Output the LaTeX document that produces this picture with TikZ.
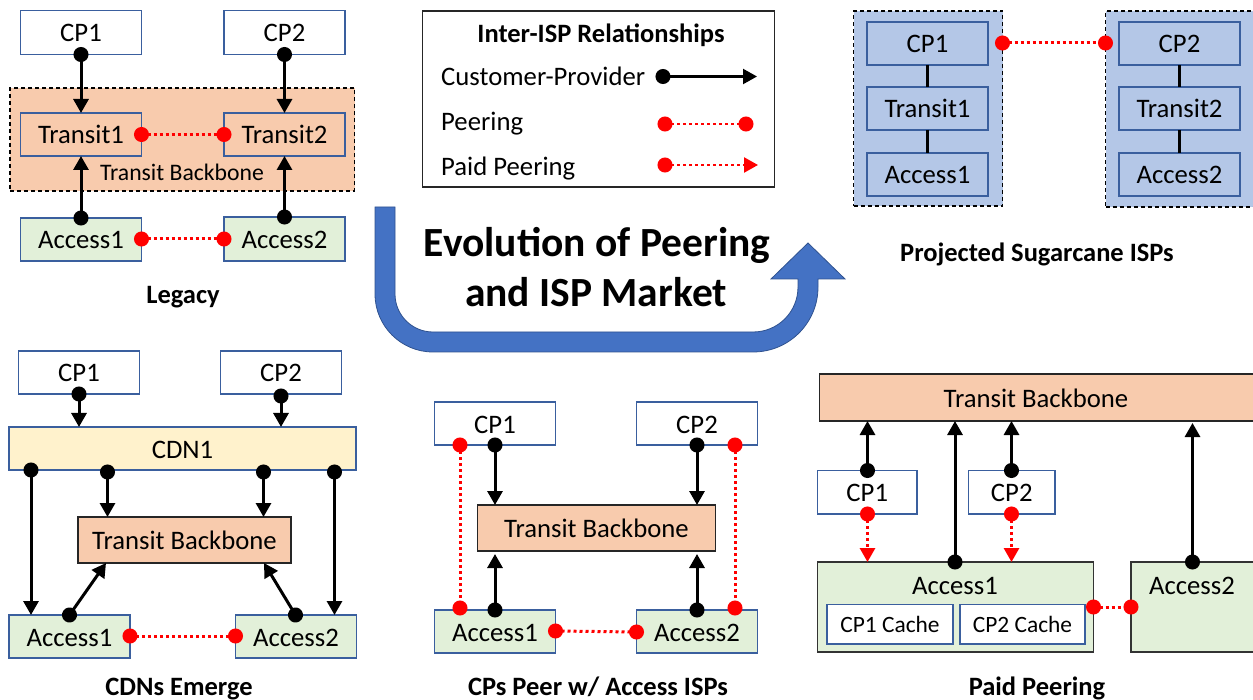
\documentclass[tikz,border=0pt]{standalone}
\usepackage{fontspec}
\setmainfont{Carlito}
\usetikzlibrary{arrows.meta}
\definecolor{bluedge}{HTML}{3A5F9E}
\definecolor{arrowedge}{HTML}{2F528F}
\definecolor{orangefill}{HTML}{F8CBAD}
\definecolor{greenfill}{HTML}{E2F0D9}
\definecolor{yellowfill}{HTML}{FFF2CC}
\definecolor{bluefill}{HTML}{B4C7E7}
\definecolor{arrowblue}{HTML}{4472C4}
\definecolor{peerred}{HTML}{FF0000}
\newcommand{\bx}[7]{\node[#6,minimum width={(#4-#2)*1pt},minimum height={(#5-#3)*1pt}] (#1) at ({(#2+#4)/2},{(#3+#5)/2}) {#7};}
\tikzset{
  base/.style={inner sep=0pt,outer sep=0pt,font=\fontsize{26.7}{30}\selectfont,text height=19pt,text depth=0pt,line width=1.1pt},
  white box/.style={base,draw=bluedge,fill=white},
  orange box/.style={base,draw=bluedge,fill=orangefill},
  green box/.style={base,draw=bluedge,fill=greenfill},
  green dark/.style={base,draw=black!80,fill=greenfill},
  yellow box/.style={base,draw=bluedge,fill=yellowfill},
  blue box/.style={base,draw=bluedge,fill=bluefill},
  backbone/.style={base,draw=black!85,fill=orangefill,line width=1.3pt},
  dashed area/.style={base,draw=black,fill=#1,dash pattern=on 4pt off 3pt},
  caption/.style={inner sep=0pt,font=\bfseries\fontsize{26.5}{30}\selectfont,text height=19pt,text depth=0pt},
  plain/.style={inner sep=0pt,font=\fontsize{26.7}{30}\selectfont,text height=19pt,text depth=0pt},
  headline/.style={inner sep=0pt,font=\bfseries\fontsize{41.5}{48}\selectfont,text height=29pt,text depth=0pt},
  cache box/.style={white box,font=\fontsize{23.4}{28}\selectfont,text height=16.5pt},
  cust/.style={draw=black,line width=3pt,shorten <=-7.5pt,{Circle[length=15pt]}-{Triangle[length=14pt,width=15pt]}},
  peer/.style={draw=peerred,line width=3pt,dash pattern=on 3pt off 3pt,shorten <=-7.5pt,shorten >=-7.5pt,{Circle[length=15pt]}-{Circle[length=15pt]}},
  paid/.style={draw=peerred,line width=3pt,dash pattern=on 3pt off 3pt,shorten <=-7.5pt,{Circle[length=15pt]}-{Triangle[length=14pt,width=15pt]}},
  link/.style={draw=black,line width=3pt},
}
\begin{document}
\begin{tikzpicture}[x=1pt,y=-1pt]
\useasboundingbox (0,0) rectangle (1253,700);
\clip (0,0) rectangle (1253,700);
% Legacy
\bx{la}{10}{88}{354.5}{191}{dashed area=orangefill}{}
\bx{lcpa}{20.5}{10.5}{141.5}{54.5}{white box}{CP1}
\bx{lcpb}{224}{10.5}{345}{54.5}{white box}{CP2}
\bx{lta}{20.5}{113}{141.5}{156}{orange box}{Transit1}
\bx{ltb}{224}{113}{345}{156}{orange box}{Transit2}
\bx{laa}{20.5}{218}{141.5}{261}{green box}{Access1}
\bx{lab}{224}{217}{345}{261}{green box}{Access2}
\node[inner sep=0pt,font=\fontsize{23.7}{28}\selectfont,text height=16.5pt,text depth=0pt] (ltxt) at (182,172) {Transit Backbone};
\node[caption] (lcap) at (183,294) {Legacy};
\draw[cust] (lcpa.south -| 81,0) -- (lta.north -| 81,0);
\draw[cust] (lcpb.south -| 284.5,0) -- (ltb.north -| 284.5,0);
\draw[cust] (laa.north -| 81,0) -- (lta.south -| 81,0);
\draw[cust] (lab.north -| 284.5,0) -- (ltb.south -| 284.5,0);
\draw[peer] (lta.east) -- (ltb.west);
\draw[peer] (laa.east |- 0,239) -- (lab.west |- 0,239);
% Legend
\bx{leg}{422.5}{11}{774.5}{187}{base,draw=black!85,fill=white,line width=1.3pt}{}
\node[caption] (legt) at (601,33.5) {Inter-ISP Relationships};
\node[plain,anchor=west] (legc) at (441,75.7) {Customer-Provider};
\node[plain,anchor=west] (legp) at (441,121) {Peering};
\node[plain,anchor=west] (legq) at (441,165.7) {Paid Peering};
\coordinate (ca) at (663,76.5); \coordinate (cb) at (757,76.5);
\coordinate (pa) at (665,124); \coordinate (pb) at (746,124);
\coordinate (qa) at (665,165); \coordinate (qb) at (758,165);
\draw[cust,line width=2.2pt] (ca) -- (cb);
\draw[peer,line width=2.4pt] (pa) -- (pb);
\draw[paid,line width=2.4pt] (qa) -- (qb);
% Big arrow
\draw[draw=arrowedge,line width=.8pt,fill=arrowblue] (375,207) -- (375,294) .. controls (375,326) and (401,352) .. (433,352) -- (753,352) .. controls (789,352) and (818,323) .. (818,287) -- (818,279) -- (845,279) -- (808,243) -- (771,279) -- (798,279) -- (798,287) .. controls (798,312) and (778,332) .. (753,332) -- (433,332) .. controls (412,332) and (395,315) .. (395,294) -- (395,207) -- cycle;
\node[headline] (tita) at (597,242.5) {Evolution of Peering};
\node[headline] (titb) at (596,292.5) {and ISP Market};
% Sugarcane
\bx{sa}{853.5}{11}{1002.5}{206}{dashed area=bluefill}{}
\bx{sb}{1105.5}{11}{1262}{207}{dashed area=bluefill}{}
\bx{scpa}{867}{22}{988}{65}{blue box}{CP1}
\bx{sta}{867}{87}{988}{130}{blue box}{Transit1}
\bx{saa}{867}{153}{988}{196}{blue box}{Access1}
\bx{scpb}{1119}{22}{1240}{65}{blue box}{CP2}
\bx{stb}{1119}{87}{1240}{130}{blue box}{Transit2}
\bx{sab}{1119}{153}{1240}{196}{blue box}{Access2}
\draw[link] (scpa) -- (sta);
\draw[link] (sta) -- (saa);
\draw[link] (scpb) -- (stb);
\draw[link] (stb) -- (sab);
\draw[peer] (sa.east |- 0,43) -- (sb.west |- 0,43);
\node[caption] (scap) at (1037,252.5) {Projected Sugarcane ISPs};
% CDNs
\bx{ccpa}{18.5}{351}{139.5}{394}{white box}{CP1}
\bx{ccpb}{220.5}{351}{341.5}{394}{white box}{CP2}
\bx{ccdn}{9}{427}{356}{470}{yellow box}{CDN1}
\bx{ctb}{78}{517}{291}{563}{backbone}{Transit Backbone}
\bx{caa}{9}{615}{130}{658}{green box}{Access1}
\bx{cab}{235.5}{615}{356.5}{658}{green box}{Access2}
\draw[cust] (ccpa.south -| 79,0) -- (ccdn.north -| 79,0);
\draw[cust] ([yshift=-2pt]ccpb.south -| 281,0) -- (ccdn.north -| 281,0);
\draw[cust] (ccdn.south -| 31,0) -- (caa.north -| 31,0);
\draw[cust] ([yshift=-2pt]ccdn.south -| 107.5,0) -- (ctb.north -| 107.5,0);
\draw[cust] ([yshift=-2pt]ccdn.south -| 263.5,0) -- (ctb.north -| 263.5,0);
\draw[cust] ([yshift=-2pt]ccdn.south -| 334.5,0) -- (cab.north -| 334.5,0);
\draw[cust] (caa.north -| 69.5,0) -- (ctb.south -| 106,0);
\draw[cust] (cab.north -| 295.5,0) -- (ctb.south -| 264,0);
\draw[peer] (caa.east |- 0,636) -- (cab.west |- 0,636);
\node[caption] (ccap) at (179,686) {CDNs Emerge};
% CPs peer
\bx{pcpa}{434.5}{402}{555.5}{445}{white box}{CP1}
\bx{pcpb}{636.5}{402}{757.5}{445}{white box}{CP2}
\bx{ptb}{477.5}{505}{715.5}{551}{backbone}{Transit Backbone}
\bx{paa}{434.5}{610}{555.5}{653}{green box}{Access1}
\bx{pab}{636.5}{610}{757.5}{653}{green box}{Access2}
\draw[peer] (pcpa.south -| 460,0) -- ([yshift=2pt]paa.north -| 460,0);
\draw[peer] (pcpb.south -| 735,0) -- ([yshift=2pt]pab.north -| 735,0);
\draw[cust] (pcpa.south -| 495,0) -- (ptb.north -| 495,0);
\draw[cust] (pcpb.south -| 697,0) -- (ptb.north -| 697,0);
\draw[cust,shorten >=3pt] (paa.north -| 495,0) -- (ptb.south -| 495,0);
\draw[cust,shorten >=3pt] (pab.north -| 697,0) -- (ptb.south -| 697,0);
\draw[peer] (paa.east |- 0,631) -- (pab.west |- 0,632);
\node[caption] (pcap) at (598,686) {CPs Peer w/ Access ISPs};
% Paid peering
\bx{qtb}{819.5}{374}{1262}{421}{backbone}{}
\node[plain] (qtbt) at (1036,398) {Transit Backbone};
\bx{qcpa}{817.5}{470.5}{917}{514}{white box}{CP1}
\bx{qcpb}{968.5}{470.5}{1055}{514}{white box}{CP2}
\bx{qaa}{817.5}{562}{1093.5}{652}{green dark}{}
\bx{qab}{1131}{562}{1262}{652}{green dark}{}
\node[plain] (qaat) at (955,585) {Access1};
\node[plain] (qabt) at (1192,585) {Access2};
\bx{qca}{827}{604.5}{953}{644}{cache box}{CP1 Cache}
\bx{qcb}{960}{604.5}{1085}{644}{cache box}{CP2 Cache}
\draw[cust] (qcpa.north -| 867.5,0) -- (qtb.south -| 867.5,0);
\draw[cust] (qcpb.north -| 1011.5,0) -- (qtb.south -| 1011.5,0);
\draw[cust] (qaa.north -| 955,0) -- (qtb.south -| 955,0);
\draw[cust,shorten >=2pt] (qab.north -| 1192.5,0) -- (qtb.south -| 1192.5,0);
\draw[paid] (qcpa.south -| 867.5,0) -- (qaa.north -| 867.5,0);
\draw[paid] (qcpb.south -| 1011.5,0) -- (qaa.north -| 1011.5,0);
\draw[peer] (qaa.east |- 0,607) -- (qab.west |- 0,607);
\node[caption] (qcap) at (1037,685.5) {Paid Peering};
\end{tikzpicture}
\end{document}
